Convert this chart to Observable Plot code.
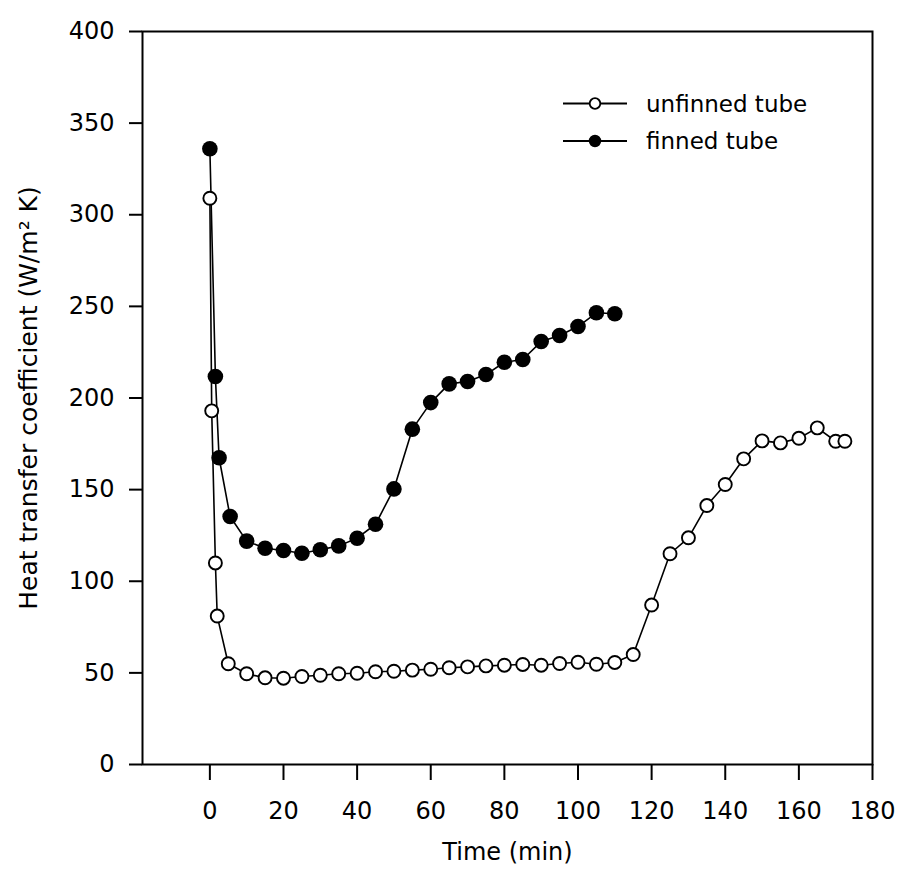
<!DOCTYPE html>
<html><head><meta charset="utf-8">
<script src="https://cdn.jsdelivr.net/npm/d3@7"></script>
<script src="https://cdn.jsdelivr.net/npm/@observablehq/plot@0.6"></script>
<style>
body{margin:0;background:#fff}
#chart{width:897px;height:878px}
</style>
</head><body><div id="chart"></div>
<script>
// ---- data ----
const seriesNames = ["unfinned tube", "finned tube"];
const unfinnedTime = [0, 0.5, 1.5, 2, 5, 10, 15, 20, 25, 30, 35, 40, 45, 50, 55, 60, 65, 70, 75, 80, 85, 90, 95, 100, 105, 110, 115, 120, 125, 130, 135, 140, 145, 150, 155, 160, 165, 170, 172.5];
const unfinnedH = [309, 193, 110, 81, 55, 49.5, 47.3, 47.1, 48, 48.7, 49.5, 49.8, 50.6, 50.9, 51.5, 52, 52.8, 53.3, 53.8, 54.2, 54.6, 54.2, 55.1, 55.8, 54.7, 55.7, 60, 87, 115, 123.7, 141.3, 152.8, 166.8, 176.6, 175.5, 178, 183.7, 176.4, 176.4];
const finnedTime = [0, 1.5, 2.5, 5.5, 10, 15, 20, 25, 30, 35, 40, 45, 50, 55, 60, 65, 70, 75, 80, 85, 90, 95, 100, 105, 110];
const finnedH = [336, 211.7, 167.4, 135.3, 121.9, 118, 116.8, 115.3, 117.2, 119.3, 123.5, 131.1, 150.4, 183, 197.5, 207.7, 209, 212.8, 219.5, 221, 230.8, 234.1, 239, 246.5, 246];
const xTicks = [0, 20, 40, 60, 80, 100, 120, 140, 160, 180];
const yTicks = [0, 50, 100, 150, 200, 250, 300, 350, 400];
const xLabel = "Time (min)";
const yLabel = "Heat transfer coefficient (W/m\u00B2 K)";

const unfinned = unfinnedTime.map((t, i) => ({t, h: unfinnedH[i]}));
const finned = finnedTime.map((t, i) => ({t, h: finnedH[i]}));

const chart = Plot.plot({
  width: 897,
  height: 878,
  marginLeft: 142,
  marginRight: 25,
  marginTop: 31,
  marginBottom: 114,
  style: {fontFamily: "DejaVu Sans", fontSize: "24px", background: "#fff", color: "#000", overflow: "visible"},
  x: {domain: [-18.3, 180]},
  y: {domain: [0, 400]},
  marks: [
    Plot.axisX({ticks: xTicks, tickSize: 16, tickPadding: 21, label: null, strokeWidth: 2, fontSize: 24}),
    Plot.axisY({ticks: yTicks, tickSize: 13, tickPadding: 15, label: null, strokeWidth: 2, fontSize: 24}),
    Plot.frame({stroke: "#000", strokeWidth: 2}),
    Plot.line(unfinned, {x: "t", y: "h", stroke: "#000", strokeWidth: 1.6}),
    Plot.line(finned, {x: "t", y: "h", stroke: "#000", strokeWidth: 1.6}),
    Plot.dot(unfinned, {x: "t", y: "h", r: 6.5, fill: "#fff", stroke: "#000", strokeWidth: 1.9}),
    Plot.dot(finned, {x: "t", y: "h", r: 7.8, fill: "#000", stroke: "none"}),
    Plot.text([xLabel], {frameAnchor: "bottom", dy: 95, fontSize: 24, textAnchor: "middle"}),
    Plot.text([yLabel], {frameAnchor: "left", dx: -114, rotate: -90, fontSize: 25, textAnchor: "middle"})
  ]
});

// legend (inside plot, upper right)
const svg = d3.select(chart);
const leg = svg.append("g").attr("font-family", "DejaVu Sans").attr("font-size", 23).attr("text-anchor", "start");
const rows = [
  {name: seriesNames[0], fill: "#fff", y: 103.5},
  {name: seriesNames[1], fill: "#000", y: 141}
];
rows.forEach(r => {
  leg.append("line").attr("x1", 563).attr("x2", 627).attr("y1", r.y).attr("y2", r.y)
    .attr("stroke", "#000").attr("stroke-width", 1.8);
  leg.append("circle").attr("cx", 595).attr("cy", r.y).attr("r", 5.3)
    .attr("fill", r.fill).attr("stroke", "#000").attr("stroke-width", 1.8);
  leg.append("text").attr("x", 646).attr("y", r.y).attr("dy", "0.35em").attr("text-anchor", "start").text(r.name);
});

document.getElementById("chart").append(chart);
</script>
</body></html>
